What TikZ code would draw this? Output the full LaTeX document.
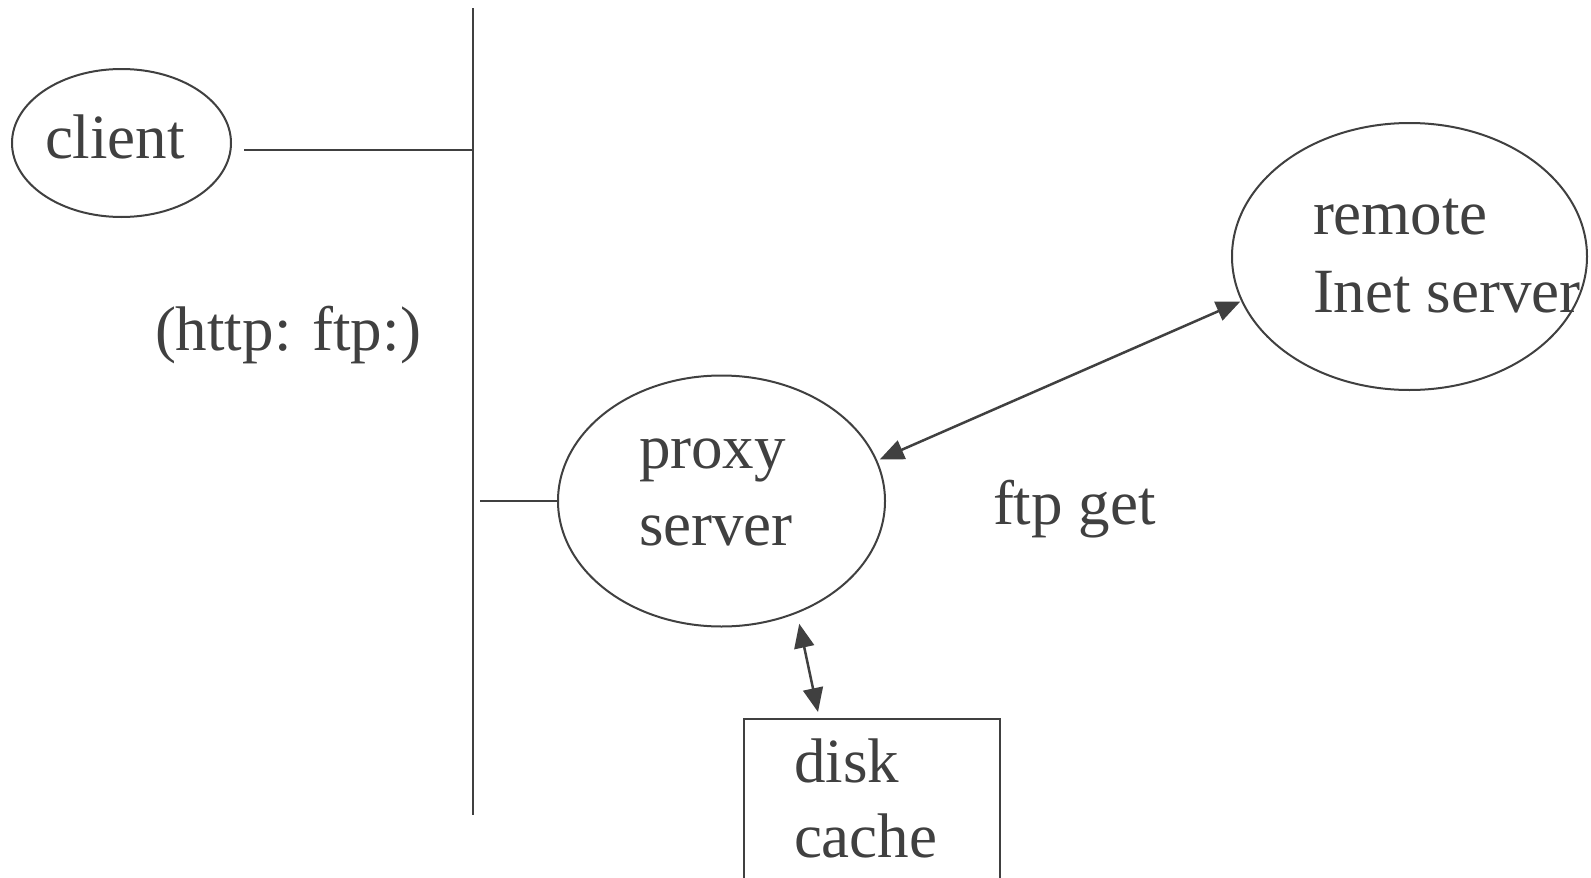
\documentclass[tikz,border=0pt]{standalone}
\usepackage{fontspec}
\setmainfont{Liberation Serif}
\usetikzlibrary{arrows.meta,shapes.geometric}
\definecolor{ink}{RGB}{64,64,64}
\begin{document}
\begin{tikzpicture}[x=1pt,y=-1pt,
  line width=2pt, draw=ink,
  every node/.style={text=ink},
  txt/.style={inner sep=0pt, anchor=base west, font=\fontsize{63}{75}\selectfont},
  oval/.style={draw=ink, ellipse, inner sep=0pt, line width=2pt},
  biarrow/.style={{Triangle[length=24pt,width=20pt]}-{Triangle[length=24pt,width=20pt]}, line width=2.5pt, draw=ink}
]
\useasboundingbox[fill=white] (0,0) rectangle (1591,878);

% bus
\coordinate (bustop) at (473,8);
\coordinate (busbot) at (473,815);
\draw (bustop) -- (busbot);

% client
\node[oval, minimum width=219pt, minimum height=148pt] (client) at (121.5,143) {};
\node[txt] (clientT) at (44,158) {client};
\coordinate (cl1) at ([shift={(12pt,-7pt)}]client.east);
\draw (cl1) -- (cl1 -| bustop);

% label
\node[txt] (proto) at (154,350) {(http: ftp:)};

% proxy
\node[oval, minimum width=327pt, minimum height=251pt] (proxy) at (721.5,501) {};
\node[txt] (proxyT1) at (638,468) {proxy};
\node[txt] (proxyT2) at (638,545) {server};
\coordinate (pl) at (480,501);
\draw (pl) -- (proxy.west);

% remote
\node[oval, minimum width=355pt, minimum height=267pt] (remote) at (1409.5,256.5) {};
\node[txt] (remoteT1) at (1312,234) {remote};
\node[txt] (remoteT2) at (1312,312) {Inet server};

\draw[biarrow] ([shift={(3pt,0pt)}]proxy.15.5) -- ([shift={(-1pt,0pt)}]remote.195.5);
\node[txt] (ftpget) at (992,524) {ftp get};

% disk cache
\node[draw=ink, line width=2pt, minimum width=256pt, minimum height=220pt, anchor=north west, inner sep=0pt] (disk) at (743,718) {};
\node[txt] (diskT1) at (793,782) {disk};
\node[txt] (diskT2) at (793,857) {cache};

\coordinate (pd) at ([shift={(2pt,-10.5pt)}]proxy.-56.7);
\coordinate (dp) at ([shift={(75pt,6pt)}]disk.north west);
\draw[biarrow] (pd) -- (dp);
\end{tikzpicture}
\end{document}
